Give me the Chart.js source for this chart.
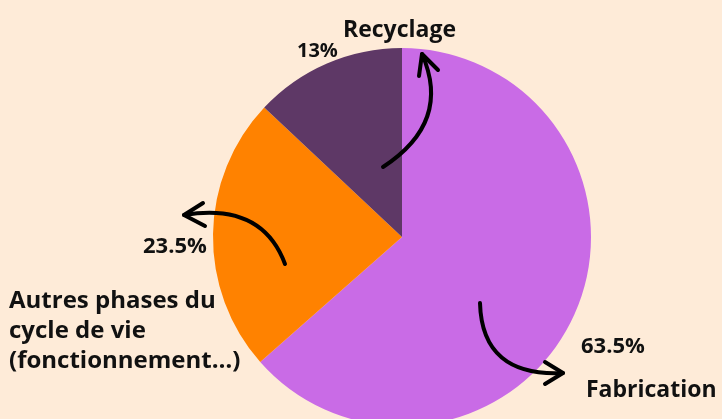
<!DOCTYPE html>
<html>
<head>
<meta charset="utf-8">
<script src="https://cdn.jsdelivr.net/npm/chart.js@4"></script>
<style>
  html, body { margin: 0; padding: 0; background: #feebd8; overflow: hidden; }
  #wrap { width: 722px; height: 480px; }
</style>
</head>
<body>
<div id="wrap"><canvas id="pieEmpreinte"></canvas></div>
<script>
// Donnees
const categories = ['Fabrication', 'Autres phases du cycle de vie (fonctionnement…)', 'Recyclage'];
const valeurs = [63.5, 23.5, 13];
const couleurs = ['#c96be6', '#ff8200', '#5e3866'];

// Etiquettes et fleches dessinees a la main
const annotations = {
  id: 'annotations',
  afterDraw(chart) {
    const ctx = chart.ctx;
    const arc = chart.getDatasetMeta(0).data[0];
    const cx = arc.x, cy = arc.y;

    ctx.save();
    ctx.fillStyle = '#111';
    ctx.strokeStyle = '#000';
    ctx.lineWidth = 4;
    ctx.lineCap = 'round';
    ctx.lineJoin = 'round';

    // Textes
    ctx.font = 'bold 23px "Open Sans"';
    ctx.textBaseline = 'alphabetic';
    ctx.textAlign = 'left';
    ctx.fillText(categories[2], cx - 59, cy - 200);
    ctx.fillText(categories[0], cx + 184, cy + 160);
    ctx.font = 'bold 24px "Open Sans"';
    ctx.fillText('Autres phases du', cx - 393, cy + 71);
    ctx.fillText('cycle de vie', cx - 393, cy + 101);
    ctx.fillText('(fonctionnement…)', cx - 393, cy + 131);

    ctx.font = 'bold 20px "Open Sans"';
    ctx.fillText(valeurs[2] + '%', cx - 105, cy - 180);
    ctx.font = 'bold 22px "Open Sans"';
    ctx.fillText(valeurs[1] + '%', cx - 259, cy + 16);
    ctx.fillText(valeurs[0] + '%', cx + 179, cy + 116);

    const fleche = function(x0, y0, qx, qy, x1, y1, w1x, w1y, w2x, w2y){
      ctx.beginPath();
      ctx.moveTo(cx + x0, cy + y0);
      ctx.quadraticCurveTo(cx + qx, cy + qy, cx + x1, cy + y1);
      ctx.stroke();
      ctx.beginPath();
      ctx.moveTo(cx + w1x, cy + w1y);
      ctx.lineTo(cx + x1, cy + y1);
      ctx.lineTo(cx + w2x, cy + w2y);
      ctx.stroke();
    };

    // Recyclage
    fleche(-19, -70, 50, -115, 20, -183, 17, -161, 36, -167);
    // Autres phases
    fleche(-117, 27, -140, -35, -218, -22, -199, -34, -197, -11);
    // Fabrication
    fleche(78, 66, 80, 140, 161, 136, 143, 125, 143, 147);

    ctx.restore();
  }
};

const ctxPie = document.getElementById('pieEmpreinte').getContext('2d');
const pie = new Chart(ctxPie, {
  type: 'pie',
  data: {
    labels: categories,
    datasets: [{
      data: valeurs,
      backgroundColor: couleurs,
      borderWidth: 0
    }]
  },
  options: {
    responsive: true,
    maintainAspectRatio: false,
    animation: false,
    layout: { padding: { left: 213, right: 131, top: 48, bottom: 54 } },
    plugins: {
      legend: { display: false },
      tooltip: { enabled: false }
    }
  },
  plugins: [annotations]
});
</script>
</body>
</html>
